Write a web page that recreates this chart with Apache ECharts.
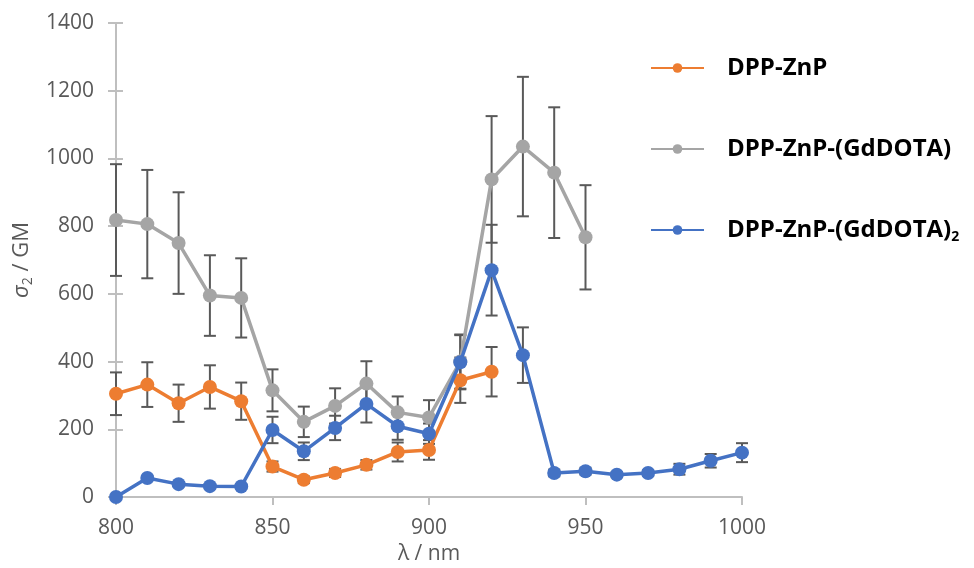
<!DOCTYPE html>
<html>
<head>
<meta charset="utf-8">
<script src="https://cdn.jsdelivr.net/npm/echarts@6/dist/echarts.min.js"></script>
<style>html,body{margin:0;padding:0;background:#fff;}#c{width:974px;height:568px;}</style>
</head>
<body>
<div id="c"></div>
<script>
// wavelengths (nm)
const wlA = [800, 810, 820, 830, 840, 850, 860, 870, 880, 890, 900, 910, 920];
const wlB = [800, 810, 820, 830, 840, 850, 860, 870, 880, 890, 900, 910, 920, 930, 940, 950];
const wlC = [800, 810, 820, 830, 840, 850, 860, 870, 880, 890, 900, 910, 920, 930, 940, 950, 960, 970, 980, 990, 1000];

// DPP-ZnP
const valA = [305, 332, 277, 325, 283, 90, 51, 71, 95, 133, 139, 345, 370];
const errA = [63, 66, 55, 64, 55, 15, 10, 12, 14, 28, 29, 67, 73];
// DPP-ZnP-(GdDOTA)
const valB = [818, 806, 750, 595, 588, 315, 222, 269, 335, 250, 235, 400, 938, 1035, 958, 767];
const errB = [165, 160, 150, 119, 117, 62, 45, 52, 66, 47, 51, 80, 187, 206, 193, 154];
// DPP-ZnP-(GdDOTA)2
const valC = [0, 56, 38, 32, 31, 198, 135, 204, 275, 209, 187, 398, 670, 419, 71, 76, 66, 71, 82, 107, 131];
const errC = [0, 6, 6, 6, 6, 39, 26, 36, 55, 40, 30, 80, 134, 82, 10, 10, 8, 8, 16, 20, 28];

const names = ['DPP-ZnP', 'DPP-ZnP-(GdDOTA)', 'DPP-ZnP-(GdDOTA)2'];
const colors = ['#ED7D31', '#A5A5A5', '#4472C4'];

const xTicks = [800, 850, 900, 950, 1000];
const yTicks = [0, 200, 400, 600, 800, 1000, 1200, 1400];

function pts(x, v) { return x.map((d, i) => [d, v[i]]); }
function errPts(x, v, e) { return x.map((d, i) => [d, v[i], e[i]]); }

function errSeries(data) {
  return {
    type: 'custom',
    silent: true,
    z: 1,
    data: data,
    encode: { x: 0, y: 1 },
    renderItem: function (params, api) {
      const x = api.value(0), y = api.value(1), e = api.value(2);
      if (!e) return;
      const top = api.coord([x, y + e]);
      const bot = api.coord([x, y - e]);
      const w = 6;
      const st = { stroke: '#595959', lineWidth: 2 };
      return {
        type: 'group',
        children: [
          { type: 'line', shape: { x1: top[0], y1: top[1], x2: bot[0], y2: bot[1] }, style: st },
          { type: 'line', shape: { x1: top[0] - w, y1: top[1], x2: top[0] + w, y2: top[1] }, style: st },
          { type: 'line', shape: { x1: bot[0] - w, y1: bot[1], x2: bot[0] + w, y2: bot[1] }, style: st }
        ]
      };
    }
  };
}

function lineSeries(name, data, color, z) {
  return {
    name: name,
    type: 'line',
    data: data,
    z: z,
    symbol: 'circle',
    symbolSize: 14,
    showSymbol: true,
    lineStyle: { color: color, width: 3.5 },
    itemStyle: { color: color },
    emphasis: { disabled: true }
  };
}

const chart = echarts.init(document.getElementById('c'), null, { renderer: 'canvas' });
const tickFont = 'Open Sans';
chart.setOption({
  animation: false,
  backgroundColor: '#ffffff',
  grid: { left: 116, right: 232, top: 23, bottom: 71, containLabel: false, outerBoundsMode: 'none' },
  legend: {
    orient: 'vertical',
    left: 645,
    top: 51,
    itemWidth: 53,
    itemHeight: 12,
    itemGap: 57,
    selectedMode: false,
    data: names,
    formatter: function (n) {
      if (n === 'DPP-ZnP-(GdDOTA)2') return '{t|DPP-ZnP-(GdDOTA)}{s|2}';
      return '{t|' + n + '}';
    },
    textStyle: {
      padding: [0, 0, 0, 18],
      rich: {
        t: { fontFamily: tickFont, fontWeight: 'bold', fontSize: 24, color: '#000' },
        s: { fontFamily: tickFont, fontWeight: 'bold', fontSize: 14, color: '#000', verticalAlign: 'bottom', padding: [14, 0, 0, 0] }
      }
    }
  },
  xAxis: {
    type: 'value',
    min: 800, max: 1000, interval: 50,
    name: 'λ / nm',
    nameLocation: 'middle',
    nameGap: 44,
    nameTextStyle: { fontFamily: tickFont, fontSize: 21, color: '#595959' },
    axisLine: { show: true, lineStyle: { color: '#bfbfbf', width: 2 } },
    axisTick: { show: true, length: 8, lineStyle: { color: '#bfbfbf', width: 2 } },
    splitLine: { show: false },
    axisLabel: {
      margin: 21, fontFamily: tickFont, fontSize: 21, color: '#595959',
      formatter: function (v) { return xTicks.indexOf(v) >= 0 ? String(v) : ''; }
    }
  },
  yAxis: [{
    type: 'value',
    min: 0, max: 1400, interval: 200,
    name: '{i|σ}{s|2}{n| / GM}',
    nameLocation: 'middle',
    nameGap: 74,
    nameRotate: 90,
    nameTextStyle: {
      rich: {
        i: { fontFamily: tickFont, fontStyle: 'italic', fontSize: 22, color: '#595959' },
        s: { fontFamily: tickFont, fontSize: 14, color: '#595959', verticalAlign: 'bottom', padding: [13, 0, 0, 0] },
        n: { fontFamily: tickFont, fontSize: 22, color: '#595959' }
      }
    },
    axisLine: { show: true, lineStyle: { color: '#bfbfbf', width: 2 } },
    axisTick: { show: true, length: 8, lineStyle: { color: '#bfbfbf', width: 2 } },
    splitLine: { show: false },
    axisLabel: {
      margin: 22, fontFamily: tickFont, fontSize: 21, color: '#595959',
      formatter: function (v) { return yTicks.indexOf(v) >= 0 ? String(v) : ''; }
    }
  }, {
    type: 'value',
    position: 'left',
    min: 0, max: 1400, interval: 200,
    axisLine: { show: false },
    axisTick: { show: true, inside: true, length: 7, lineStyle: { color: '#bfbfbf', width: 2 } },
    axisLabel: { show: false },
    splitLine: { show: false }
  }],
  series: [
    errSeries(errPts(wlA, valA, errA)),
    errSeries(errPts(wlB, valB, errB)),
    errSeries(errPts(wlC, valC, errC)),
    lineSeries(names[0], pts(wlA, valA), colors[0], 3),
    lineSeries(names[1], pts(wlB, valB), colors[1], 4),
    lineSeries(names[2], pts(wlC, valC), colors[2], 5)
  ]
});
</script>
</body>
</html>
